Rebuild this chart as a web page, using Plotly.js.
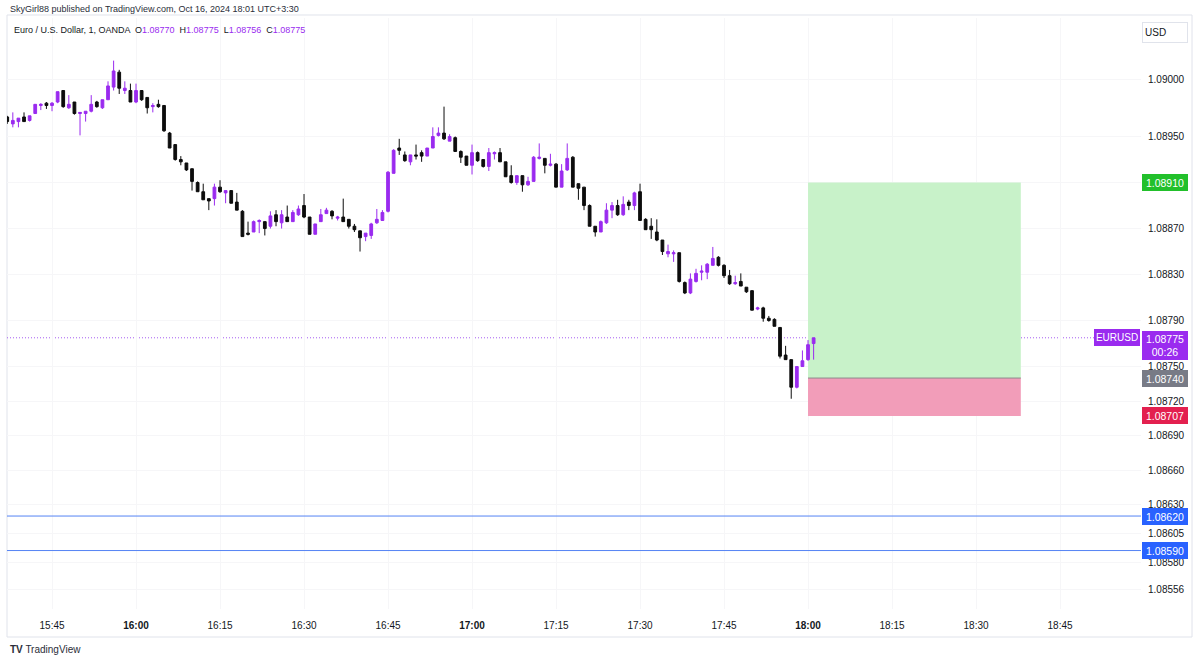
<!DOCTYPE html>
<html>
<head>
<meta charset="utf-8">
<script src="https://cdn.plot.ly/plotly-3.0.1.min.js"></script>
<style>
  html, body { margin: 0; padding: 0; background: #ffffff; }
  #chart { width: 1200px; height: 663px; }
</style>
</head>
<body>
<div id="chart"></div>
<script>
// ---- Data (EUR/USD, 1-minute, OANDA) ----
const firstCandleTime = '15:37';
const openPrices = [
  1.08967,1.08961,1.08963,1.08967,1.08964,1.08970,1.08977,1.08979,1.08977,1.08980,
  1.08990,1.08975,1.08980,1.08970,1.08970,1.08972,1.08980,1.08975,1.08982,1.08993,
  1.09006,1.08990,1.08990,1.08980,1.08990,1.08984,1.08976,1.08978,1.08977,1.08953,
  1.08943,1.08930,1.08927,1.08922,1.08910,1.08902,1.08896,1.08896,1.08906,1.08901,
  1.08903,1.08893,1.08885,1.08866,1.08867,1.08876,1.08876,1.08872,1.08882,1.08875,
  1.08880,1.08876,1.08882,1.08890,1.08880,1.08865,1.08876,1.08883,1.08885,1.08879,
  1.08880,1.08878,1.08872,1.08868,1.08863,1.08864,1.08875,1.08877,1.08885,1.08918,
  1.08940,1.08934,1.08928,1.08934,1.08936,1.08933,1.08940,1.08951,1.08953,1.08946,
  1.08949,1.08937,1.08933,1.08925,1.08936,1.08930,1.08924,1.08935,1.08936,1.08928,
  1.08916,1.08910,1.08916,1.08908,1.08911,1.08931,1.08931,1.08925,1.08926,1.08906,
  1.08921,1.08932,1.08909,1.08906,1.08890,1.08872,1.08867,1.08875,1.08886,1.08890,
  1.08882,1.08893,1.08890,1.08902,1.08878,1.08872,1.08867,1.08860,1.08848,1.08848,
  1.08849,1.08823,1.08814,1.08824,1.08832,1.08832,1.08838,1.08845,1.08838,1.08829,
  1.08822,1.08824,1.08819,1.08816,1.08800,1.08801,1.08792,1.08791,1.08784,1.08760,
  1.08756,1.08732,1.08750,1.08756,1.08770
];
const highPrices = [
  1.08968,1.08971,1.08966,1.08971,1.08968,1.08978,1.08979,1.08980,1.08980,1.08989,
  1.08990,1.08986,1.08980,1.08971,1.08972,1.08986,1.08981,1.08982,1.08998,1.09016,
  1.09008,1.08998,1.08996,1.08996,1.08990,1.08984,1.08979,1.08982,1.08977,1.08954,
  1.08943,1.08933,1.08927,1.08922,1.08911,1.08909,1.08896,1.08909,1.08912,1.08903,
  1.08903,1.08901,1.08886,1.08876,1.08877,1.08878,1.08876,1.08885,1.08886,1.08886,
  1.08890,1.08886,1.08890,1.08900,1.08880,1.08874,1.08887,1.08888,1.08886,1.08881,
  1.08896,1.08878,1.08874,1.08868,1.08866,1.08875,1.08887,1.08886,1.08920,1.08939,
  1.08948,1.08937,1.08934,1.08943,1.08938,1.08940,1.08958,1.08958,1.08976,1.08952,
  1.08950,1.08938,1.08933,1.08943,1.08937,1.08930,1.08940,1.08937,1.08940,1.08928,
  1.08925,1.08916,1.08916,1.08915,1.08933,1.08944,1.08931,1.08935,1.08927,1.08926,
  1.08944,1.08933,1.08909,1.08906,1.08891,1.08872,1.08877,1.08892,1.08893,1.08895,
  1.08898,1.08895,1.08902,1.08909,1.08879,1.08879,1.08878,1.08860,1.08856,1.08851,
  1.08849,1.08824,1.08831,1.08835,1.08838,1.08840,1.08854,1.08846,1.08839,1.08834,
  1.08829,1.08831,1.08819,1.08816,1.08802,1.08802,1.08794,1.08792,1.08784,1.08768,
  1.08756,1.08750,1.08764,1.08773,1.08775
];
const lowPrices = [
  1.08961,1.08958,1.08958,1.08963,1.08963,1.08970,1.08973,1.08974,1.08972,1.08979,
  1.08975,1.08974,1.08969,1.08951,1.08963,1.08971,1.08975,1.08974,1.08982,1.08990,
  1.08987,1.08987,1.08980,1.08979,1.08981,1.08970,1.08971,1.08975,1.08954,1.08940,
  1.08929,1.08925,1.08920,1.08903,1.08902,1.08895,1.08886,1.08890,1.08901,1.08892,
  1.08892,1.08886,1.08863,1.08864,1.08867,1.08866,1.08864,1.08870,1.08872,1.08870,
  1.08876,1.08876,1.08881,1.08879,1.08865,1.08865,1.08876,1.08883,1.08878,1.08877,
  1.08876,1.08870,1.08867,1.08850,1.08859,1.08861,1.08874,1.08877,1.08884,1.08918,
  1.08934,1.08928,1.08925,1.08930,1.08928,1.08933,1.08940,1.08950,1.08947,1.08946,
  1.08937,1.08927,1.08925,1.08917,1.08928,1.08923,1.08920,1.08930,1.08928,1.08915,
  1.08909,1.08908,1.08902,1.08907,1.08911,1.08930,1.08918,1.08924,1.08906,1.08906,
  1.08920,1.08906,1.08895,1.08886,1.08872,1.08863,1.08867,1.08874,1.08879,1.08881,
  1.08881,1.08886,1.08886,1.08877,1.08869,1.08861,1.08859,1.08847,1.08845,1.08841,
  1.08823,1.08813,1.08813,1.08823,1.08825,1.08826,1.08838,1.08837,1.08827,1.08821,
  1.08821,1.08820,1.08814,1.08799,1.08799,1.08789,1.08789,1.08785,1.08757,1.08756,
  1.08722,1.08731,1.08750,1.08755,1.08756
];
const closePrices = [
  1.08963,1.08964,1.08966,1.08963,1.08968,1.08978,1.08978,1.08977,1.08979,1.08989,
  1.08976,1.08978,1.08970,1.08971,1.08972,1.08978,1.08976,1.08982,1.08994,1.09007,
  1.08992,1.08992,1.08980,1.08990,1.08982,1.08975,1.08977,1.08976,1.08955,1.08940,
  1.08930,1.08928,1.08921,1.08911,1.08902,1.08895,1.08894,1.08906,1.08902,1.08903,
  1.08892,1.08886,1.08863,1.08865,1.08876,1.08877,1.08870,1.08881,1.08876,1.08882,
  1.08876,1.08884,1.08887,1.08880,1.08865,1.08874,1.08882,1.08886,1.08881,1.08880,
  1.08876,1.08872,1.08869,1.08862,1.08866,1.08874,1.08878,1.08884,1.08919,1.08938,
  1.08938,1.08929,1.08934,1.08933,1.08933,1.08940,1.08950,1.08953,1.08948,1.08950,
  1.08937,1.08932,1.08925,1.08936,1.08929,1.08924,1.08936,1.08936,1.08928,1.08915,
  1.08910,1.08916,1.08908,1.08911,1.08932,1.08932,1.08925,1.08926,1.08906,1.08920,
  1.08931,1.08906,1.08905,1.08890,1.08872,1.08867,1.08876,1.08886,1.08890,1.08882,
  1.08891,1.08890,1.08901,1.08877,1.08869,1.08869,1.08860,1.08850,1.08850,1.08849,
  1.08824,1.08814,1.08826,1.08831,1.08833,1.08839,1.08844,1.08838,1.08829,1.08822,
  1.08823,1.08820,1.08815,1.08799,1.08801,1.08792,1.08790,1.08785,1.08759,1.08756,
  1.08732,1.08750,1.08755,1.08769,1.08775
];

const timeTickLabels = ['15:45','16:00','16:15','16:30','16:45','17:00','17:15','17:30','17:45','18:00','18:15','18:30','18:45'];
const priceTickValues = [1.09000,1.08950,1.08910,1.08870,1.08830,1.08790,1.08750,1.08720,1.08690,1.08660,1.08630,1.08605,1.08580,1.08556];

// Long position tool
const positionStart = '18:00';
const positionEnd = '18:38';
const positionEntry = 1.08740;
const positionTarget = 1.08910;
const positionStop = 1.08707;

// Horizontal levels
const levelPrices = [1.08620, 1.08590];

const lastPrice = 1.08775;
const countdown = '00:26';
const symbol = 'EURUSD';

// ---- helpers ----
function toMinutes(hhmm) { const p = hhmm.split(':'); return (+p[0]) * 60 + (+p[1]); }
const startMin = toMinutes(firstCandleTime);
const times = openPrices.map((_, i) => startMin + i);
const tickVals = timeTickLabels.map(toMinutes);
const tickText = timeTickLabels.map(t => t.endsWith(':00') ? '<b>' + t + '</b>' : t);

const UP = '#9a2bef', DOWN = '#0d0d0d';
const FONT = 'Liberation Sans, Arial, sans-serif';
const TXT = '#131722';
const GRID = '#f6f6f8';

const trace = {
  type: 'candlestick',
  x: times, open: openPrices, high: highPrices, low: lowPrices, close: closePrices,
  increasing: { line: { color: UP, width: 1 }, fillcolor: UP },
  decreasing: { line: { color: DOWN, width: 1 }, fillcolor: DOWN },
  whiskerwidth: 0,
  hoverinfo: 'skip',
  showlegend: false
};

const x0 = toMinutes(positionStart), x1 = toMinutes(positionEnd);

const shapes = [
  // pane border
  { type: 'rect', xref: 'paper', yref: 'paper', x0: 0, x1: 1.045, y0: -0.0474, y1: 1.0051,
    line: { color: '#e0e3eb', width: 1 }, fillcolor: 'rgba(0,0,0,0)', layer: 'below' },
  // position tool
  { type: 'rect', xref: 'x', yref: 'y', x0: x0, x1: x1, y0: positionEntry, y1: positionTarget,
    fillcolor: '#c8f2c9', line: { width: 0 }, layer: 'between' },
  { type: 'rect', xref: 'x', yref: 'y', x0: x0, x1: x1, y0: positionStop, y1: positionEntry,
    fillcolor: '#f29db9', line: { width: 0 }, layer: 'between' },
  { type: 'line', xref: 'x', yref: 'y', x0: x0, x1: x1, y0: positionEntry, y1: positionEntry,
    line: { color: '#8c8c8c', width: 1 }, layer: 'between' },
  // last price dotted line
  { type: 'line', xref: 'paper', yref: 'y', x0: 0, x1: 1, y0: lastPrice, y1: lastPrice,
    line: { color: '#a65df2', width: 1, dash: '1px,2px' }, layer: 'between' }
];
levelPrices.forEach(p => shapes.push({
  type: 'line', xref: 'paper', yref: 'y', x0: 0, x1: 1, y0: p, y1: p,
  line: { color: '#5584f4', width: 1 }, layer: 'above'
}));

function priceLabel(p, bg, extra) {
  return Object.assign({
    xref: 'paper', yref: 'y', x: 1, y: p, xanchor: 'left', yanchor: 'middle', xshift: 1,
    text: p.toFixed(5), showarrow: false, bgcolor: bg, bordercolor: bg, borderwidth: 1, borderpad: 1,
    width: 42, height: 13, align: 'center',
    font: { family: FONT, size: 10.5, color: '#ffffff' }
  }, extra || {});
}

const annotations = [
  { xref: 'paper', yref: 'paper', x: 0.0009, y: 1.0152, xanchor: 'left', yanchor: 'middle', showarrow: false,
    text: 'SkyGirl88 published on TradingView.com, Oct 16, 2024 18:01 UTC+3:30',
    font: { family: FONT, size: 9, color: '#2a2e39' } },
  { xref: 'paper', yref: 'paper', x: 0.0044, y: 0.9797, xanchor: 'left', yanchor: 'middle', showarrow: false,
    text: 'Euro / U.S. Dollar, 1, OANDA  O<span style="color:' + UP + '">' + openPrices[openPrices.length-1].toFixed(5) + '</span>' +
          '  H<span style="color:' + UP + '">' + highPrices[highPrices.length-1].toFixed(5) + '</span>' +
          '  L<span style="color:' + UP + '">' + lowPrices[lowPrices.length-1].toFixed(5) + '</span>' +
          '  C<span style="color:' + UP + '">' + closePrices[closePrices.length-1].toFixed(5) + '</span>',
    font: { family: FONT, size: 9, color: TXT } },
  { xref: 'paper', yref: 'paper', x: 1, y: 0.976, xanchor: 'left', yanchor: 'middle', xshift: 1, showarrow: false,
    text: 'USD', bgcolor: '#ffffff', bordercolor: '#e0e3eb', borderwidth: 1, borderpad: 2,
    width: 40, height: 15, align: 'left', font: { family: FONT, size: 10, color: TXT } },
  { xref: 'paper', yref: 'paper', x: 0.0009, y: -0.0677, xanchor: 'left', yanchor: 'middle', showarrow: false,
    text: '<b>TV</b> TradingView', font: { family: FONT, size: 10, color: '#2a2e39' } },
  priceLabel(positionTarget, '#22c02b'),
  priceLabel(positionEntry, '#787b86'),
  priceLabel(positionStop, '#e3204f'),
  priceLabel(levelPrices[0], '#2962ff'),
  priceLabel(levelPrices[1], '#2962ff'),
  priceLabel(lastPrice, UP, { text: lastPrice.toFixed(5) + '<br>' + countdown, yanchor: 'top', yshift: 7, height: 25 }),
  { xref: 'paper', yref: 'y', x: 1, y: lastPrice, xanchor: 'right', yanchor: 'middle', xshift: -1, showarrow: false,
    text: symbol, bgcolor: UP, bordercolor: UP, borderwidth: 1, borderpad: 1, width: 42, height: 13,
    font: { family: FONT, size: 10, color: '#ffffff' } }
];

const layout = {
  width: 1200, height: 663,
  margin: { l: 7, r: 59, t: 18, b: 54, pad: 0 },
  paper_bgcolor: '#ffffff', plot_bgcolor: '#ffffff',
  showlegend: false, hovermode: false, dragmode: false,
  font: { family: FONT, size: 10, color: TXT },
  xaxis: {
    type: 'linear', range: [936.96, 1139.46],
    tickmode: 'array', tickvals: tickVals, ticktext: tickText,
    showgrid: true, gridcolor: GRID, gridwidth: 1,
    zeroline: false, showline: false, ticks: '', ticklabelstandoff: 9,
    tickfont: { family: FONT, size: 10, color: TXT },
    rangeslider: { visible: false }, fixedrange: true
  },
  yaxis: {
    side: 'right', range: [1.0853917, 1.0905307],
    tickmode: 'array', tickvals: priceTickValues, ticktext: priceTickValues.map(v => v.toFixed(5)),
    showgrid: true, gridcolor: GRID, gridwidth: 1,
    zeroline: false, showline: false, ticks: '', ticklabelstandoff: 6,
    tickfont: { family: FONT, size: 10, color: TXT }, fixedrange: true
  },
  shapes: shapes,
  annotations: annotations
};

Plotly.newPlot('chart', [trace], layout, { displayModeBar: false, staticPlot: true });
</script>
</body>
</html>
